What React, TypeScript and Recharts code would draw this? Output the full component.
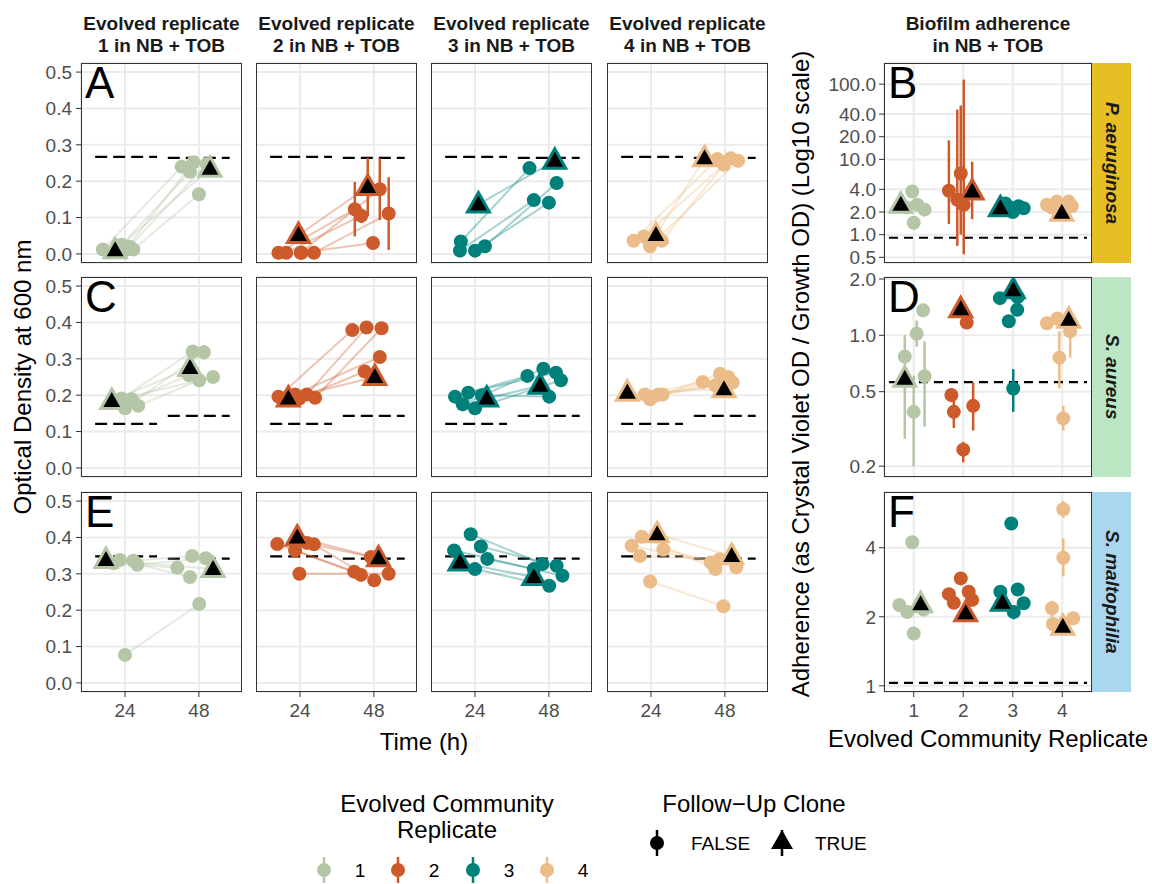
import React from 'react'
import { ScatterChart, Scatter, XAxis, YAxis, CartesianGrid, ErrorBar, ReferenceLine } from 'recharts'

const repColors = ['#B5C6A7', '#CC5A2B', '#00807A', '#EBBC87']
const repLabels = ['1', '2', '3', '4']
const speciesNames = ['P. aeruginosa', 'S. aureus', 'S. maltophilia']
const stripColors = ['#E7BF24', '#BAE6C2', '#AAD6F0']
const panelLetters = [['A', 'C', 'E'], ['B', 'D', 'F']]

const timeTicks = [24, 48]
const odTicks = [0, 0.1, 0.2, 0.3, 0.4, 0.5]
const replicateTicks = [1, 2, 3, 4]
const adhTicksPae = [0.5, 1, 2, 4, 10, 20, 40, 100]
const adhTicksSau = [0.2, 0.5, 1, 2]
const adhTicksSma = [1, 2, 4]

// growth of each clone: [time 24 (jittered), OD, err, time 48 (jittered), OD, err, follow-up clone]
const odPae1 = [
  [16.8, 0.012, 0, 42.4, 0.240, 0, 0],
  [22.9, 0.025, 0, 45.1, 0.226, 0, 0],
  [24.0, 0.010, 0, 46.2, 0.252, 0, 0],
  [26.7, 0.012, 0, 48.0, 0.164, 0, 0],
  [25.5, 0.020, 0, 50.5, 0.247, 0, 0],
  [20.8, 0.010, 0, 51.6, 0.234, 0, 1],
]
const odPae2 = [
  [17.0, 0.003, 0, 41.8, 0.123, 0.075, 0],
  [19.5, 0.003, 0, 43.9, 0.105, 0.02, 0],
  [24.2, 0.003, 0, 49.9, 0.178, 0.085, 0],
  [28.5, 0.003, 0, 52.8, 0.111, 0.1, 0],
  [24.5, 0.003, 0, 47.7, 0.030, 0.016, 0],
  [23.5, 0.052, 0.015, 46.0, 0.184, 0.08, 1],
]
const odPae3 = [
  [19.4, 0.034, 0, 41.7, 0.236, 0, 0],
  [19.1, 0.009, 0, 43.1, 0.148, 0, 0],
  [24.0, 0.009, 0, 48.0, 0.141, 0, 0],
  [27.2, 0.021, 0, 50.5, 0.195, 0, 0],
  [25.1, 0.136, 0, 49.9, 0.256, 0, 1],
]
const odPae4 = [
  [18.3, 0.036, 0, 45.6, 0.261, 0, 0],
  [21.7, 0.048, 0, 49.9, 0.263, 0, 0],
  [23.7, 0.021, 0, 52.3, 0.256, 0, 0],
  [27.5, 0.036, 0, 47.7, 0.245, 0, 0],
  [25.6, 0.052, 0, 41.4, 0.263, 0, 1],
]
const odSau1 = [
  [22.9, 0.191, 0, 46.0, 0.320, 0, 0],
  [24.0, 0.164, 0, 49.6, 0.318, 0.02, 0],
  [26.2, 0.189, 0, 44.8, 0.255, 0, 0],
  [28.3, 0.171, 0, 48.1, 0.241, 0, 0],
  [20.8, 0.186, 0, 52.6, 0.250, 0, 0],
  [19.7, 0.184, 0, 45.1, 0.275, 0, 1],
]
const odSau2 = [
  [17.0, 0.196, 0, 41.0, 0.379, 0, 0],
  [26.2, 0.202, 0, 45.6, 0.386, 0.012, 0],
  [28.9, 0.193, 0, 50.5, 0.384, 0.012, 0],
  [22.4, 0.202, 0, 49.9, 0.305, 0, 0],
  [23.8, 0.191, 0, 45.0, 0.265, 0, 0],
  [20.2, 0.191, 0, 48.3, 0.250, 0, 1],
]
const odSau3 = [
  [17.5, 0.196, 0, 41.0, 0.253, 0, 0],
  [20.0, 0.175, 0, 46.2, 0.273, 0, 0],
  [21.8, 0.207, 0, 50.3, 0.262, 0, 0],
  [24.0, 0.164, 0, 51.9, 0.241, 0, 0],
  [26.2, 0.200, 0, 48.1, 0.196, 0, 0],
  [27.8, 0.191, 0, 45.1, 0.226, 0, 1],
]
const odSau4 = [
  [22.0, 0.202, 0, 40.8, 0.236, 0, 0],
  [23.7, 0.189, 0, 46.4, 0.259, 0, 0],
  [26.4, 0.202, 0, 50.5, 0.235, 0, 0],
  [27.8, 0.202, 0, 44.8, 0.227, 0, 0],
  [24.5, 0.195, 0, 49.1, 0.250, 0, 0],
  [16.3, 0.207, 0, 47.7, 0.216, 0, 1],
]
const odSma1 = [
  [20.2, 0.329, 0, 41.0, 0.317, 0, 0],
  [22.4, 0.338, 0, 45.1, 0.291, 0, 0],
  [26.7, 0.336, 0, 45.8, 0.349, 0, 0],
  [28.0, 0.325, 0, 50.2, 0.343, 0, 0],
  [24.0, 0.077, 0, 48.1, 0.217, 0, 0],
  [17.8, 0.338, 0, 52.6, 0.313, 0, 1],
]
const odSma2 = [
  [16.6, 0.382, 0, 41.6, 0.306, 0, 0],
  [22.4, 0.364, 0, 43.8, 0.297, 0, 0],
  [26.2, 0.385, 0, 47.0, 0.346, 0, 0],
  [28.5, 0.381, 0, 48.1, 0.282, 0, 0],
  [23.8, 0.300, 0, 52.8, 0.300, 0, 0],
  [23.1, 0.400, 0, 49.5, 0.343, 0, 1],
]
const odSma3 = [
  [17.2, 0.364, 0, 43.1, 0.313, 0, 0],
  [22.6, 0.409, 0, 45.9, 0.327, 0, 0],
  [25.9, 0.375, 0, 50.5, 0.322, 0, 0],
  [28.0, 0.341, 0, 52.4, 0.295, 0, 0],
  [24.0, 0.313, 0, 48.1, 0.267, 0, 0],
  [19.1, 0.331, 0, 43.1, 0.291, 0, 1],
]
const odSma4 = [
  [17.7, 0.377, 0, 43.4, 0.331, 0, 0],
  [21.0, 0.402, 0.01, 44.9, 0.313, 0, 0],
  [20.4, 0.349, 0, 46.3, 0.340, 0.01, 0],
  [28.0, 0.367, 0, 51.7, 0.318, 0, 0],
  [23.7, 0.279, 0, 47.5, 0.211, 0, 0],
  [26.0, 0.409, 0, 50.2, 0.349, 0, 1],
]

// ancestor OD at 24 h and 48 h (dashed), and the time span they cover
const ctrlOdPae = [0.267, 0.264]
const ctrlOdSau = [0.121, 0.143]
const ctrlOdSma = [0.348, 0.342]
const ctrlSpan24 = [14.3, 34.4]
const ctrlSpan48 = [37.9, 58.0]

// adherence: [replicate (jittered), value, low, high, follow-up clone]
const adhPae = [
  [0.97, 3.75, 0, 0, 0], [1.07, 2.5, 0, 0, 0], [1.22, 2.15, 0, 0, 0], [1.0, 1.44, 0, 0, 0], [0.85, 2.3, 0, 0, 0],
  [0.74, 2.5, 0, 0, 1],
  [1.71, 3.83, 1.38, 17.9, 0], [1.88, 2.9, 0.71, 46, 0], [1.95, 6.5, 1.0, 52, 0], [2.01, 2.5, 0.55, 115, 0],
  [2.18, 3.75, 1.6, 9.3, 1],
  [2.85, 2.6, 0, 0, 0], [2.95, 2.3, 0, 0, 0], [3.12, 2.38, 0, 0, 0], [3.22, 2.24, 0, 0, 0], [3.0, 2.0, 0, 0, 0],
  [2.75, 2.24, 0, 0, 1],
  [3.69, 2.5, 0, 0, 0], [3.89, 2.75, 0, 0, 0], [4.13, 2.75, 0, 0, 0], [4.19, 2.38, 0, 0, 0], [3.79, 2.3, 0, 0, 0],
  [3.99, 1.95, 0, 0, 1],
]
const adhSau = [
  [0.82, 0.77, 0.6, 1.0, 0], [1.0, 0.39, 0.2, 0.61, 0], [1.06, 1.02, 0.87, 1.2, 0], [1.19, 1.36, 1.25, 1.48, 0],
  [1.22, 0.605, 0.325, 0.93, 0],
  [0.82, 0.586, 0.28, 0.6, 1],
  [2.07, 1.17, 1.12, 1.22, 0], [1.76, 0.48, 0.44, 0.52, 0], [1.81, 0.39, 0.32, 0.45, 0], [2.0, 0.245, 0.21, 0.27, 0],
  [2.2, 0.42, 0.31, 0.56, 0],
  [1.95, 1.38, 0, 0, 1],
  [2.74, 1.58, 0, 0, 0], [3.1, 1.6, 0, 0, 0], [3.09, 1.37, 1.3, 1.45, 0], [2.92, 1.19, 0, 0, 0], [3.01, 0.52, 0.39, 0.66, 0],
  [3.01, 1.74, 1.6, 1.9, 1],
  [3.69, 1.16, 0, 0, 0], [3.9, 1.23, 0, 0, 0], [4.16, 1.05, 0.76, 1.19, 0], [3.94, 0.76, 0.52, 1.05, 0],
  [4.02, 0.36, 0.31, 0.42, 0],
  [4.13, 1.21, 0, 0, 1],
]
const adhSma = [
  [0.97, 4.23, 0, 0, 0], [0.71, 2.25, 0, 0, 0], [0.87, 2.1, 0, 0, 0], [1.0, 1.69, 0, 0, 0], [1.2, 2.15, 0, 0, 0],
  [1.14, 2.27, 0, 0, 1],
  [1.95, 2.94, 0, 0, 0], [1.71, 2.51, 0, 0, 0], [2.11, 2.57, 0, 0, 0], [2.18, 2.37, 0, 0, 0], [1.81, 2.3, 0, 0, 0],
  [2.05, 2.07, 0, 0, 1],
  [2.75, 2.57, 0, 0, 0], [3.1, 2.63, 0, 0, 0], [3.22, 2.29, 0, 0, 0], [3.02, 2.1, 1.95, 2.2, 0], [2.97, 5.1, 0, 0, 0],
  [2.79, 2.3, 0, 0, 1],
  [4.02, 5.89, 5.4, 6.4, 0], [4.02, 3.62, 3.0, 4.4, 0], [3.79, 2.18, 2.0, 2.35, 0], [3.81, 1.86, 0, 0, 0],
  [4.22, 1.97, 1.85, 2.05, 0],
  [4.01, 1.81, 0, 0, 1],
]
// ancestor adherence (dashed)
const ctrlAdh = [0.91, 0.563, 1.03]

const odRows = [
  [odPae1, odPae2, odPae3, odPae4],
  [odSau1, odSau2, odSau3, odSau4],
  [odSma1, odSma2, odSma3, odSma4],
]
const odCtrls = [ctrlOdPae, ctrlOdSau, ctrlOdSma]
const adhRows = [adhPae, adhSau, adhSma]
const adhTicks = [adhTicksPae, adhTicksSau, adhTicksSma]
const adhDomains = [[0.42, 191], [0.175, 2.05], [0.94, 7.0]]

const FONT = '"Liberation Sans", Arial, Helvetica, sans-serif'
const PW = 161
const PH = 200
const PAD = 12
const colX = [81, 256, 431, 607]
const rowY = [63, 277, 492]
const AX = 884
const AW = 208
const tickStyle = { fontSize: 19, fill: '#4D4D4D', fontFamily: FONT }

const dot = (color: string) => (p: any) => <circle cx={p.cx} cy={p.cy} r={7} fill={color} />
const tri = (color: string) => (p: any) => (
  <path
    d={`M${p.cx},${p.cy - 12} L${p.cx + 11},${p.cy + 7.5} L${p.cx - 11},${p.cy + 7.5} Z`}
    fill="#000"
    stroke={color}
    strokeWidth={3}
    strokeLinejoin="miter"
  />
)
const none = () => <g />

function odPoints(clones: number[][], follow: number) {
  const pts: { x: number; y: number; e: number }[] = []
  clones.filter((c) => c[6] === follow).forEach((c) => {
    pts.push({ x: c[0], y: c[1], e: c[2] })
    pts.push({ x: c[3], y: c[4], e: c[5] })
  })
  return pts
}

function OdPanel({ row, col }: { row: number; col: number }) {
  const clones = odRows[row][col]
  const color = repColors[col]
  const ctrl = odCtrls[row]
  const showY = col === 0
  const showX = row === 2
  const yW = showY ? 50 : 0
  const xH = showX ? 34 : PAD
  const h = PAD + PH + xH
  return (
    <div style={{ position: 'absolute', left: colX[col] - yW, top: rowY[row] - PAD, width: PW + yW, height: h }}>
      <ScatterChart width={PW + yW} height={h} margin={{ top: PAD, right: 0, bottom: showX ? 0 : PAD, left: 0 }}>
        <CartesianGrid stroke="#EBEBEB" strokeWidth={2} />
        <XAxis
          type="number"
          dataKey="x"
          domain={[9.7, 62]}
          ticks={timeTicks}
          interval={0}
          allowDataOverflow
          hide={!showX}
          height={showX ? xH : 0}
          axisLine={false}
          tickLine={{ stroke: '#333' }}
          tickSize={5}
          tickMargin={7}
          tick={tickStyle}
        />
        <YAxis
          type="number"
          dataKey="y"
          domain={[-0.025, 0.525]}
          ticks={odTicks}
          interval={0}
          allowDataOverflow
          hide={!showY}
          width={yW}
          axisLine={false}
          tickLine={{ stroke: '#333' }}
          tickSize={5}
          tickMargin={4}
          tick={tickStyle}
          tickFormatter={(v: number) => v.toFixed(1)}
        />
        <ReferenceLine
          segment={[{ x: ctrlSpan24[0], y: ctrl[0] }, { x: ctrlSpan24[1], y: ctrl[0] }]}
          stroke="#000"
          strokeWidth={2.2}
          strokeDasharray="12 6"
        />
        <ReferenceLine
          segment={[{ x: ctrlSpan48[0], y: ctrl[1] }, { x: ctrlSpan48[1], y: ctrl[1] }]}
          stroke="#000"
          strokeWidth={2.2}
          strokeDasharray="12 6"
        />
        {clones.map((c, i) => (
          <Scatter
            key={'l' + i}
            data={[{ x: c[0], y: c[1] }, { x: c[3], y: c[4] }]}
            line={{ stroke: color, strokeOpacity: 0.35, strokeWidth: 2 }}
            shape={none}
            isAnimationActive={false}
          />
        ))}
        <Scatter data={odPoints(clones, 0)} shape={dot(color)} isAnimationActive={false}>
          <ErrorBar dataKey="e" direction="y" width={0} stroke={color} strokeWidth={2.5} />
        </Scatter>
        <Scatter data={odPoints(clones, 1)} shape={tri(color)} isAnimationActive={false}>
          <ErrorBar dataKey="e" direction="y" width={0} stroke={color} strokeWidth={2.5} />
        </Scatter>
      </ScatterChart>
      <div
        style={{
          position: 'absolute', left: yW, top: PAD, width: PW, height: PH,
          border: '1px solid #333', boxSizing: 'border-box', pointerEvents: 'none',
        }}
      />
      {col === 0 && (
        <div style={{ position: 'absolute', left: yW + 4, top: PAD - 2, fontSize: 44, fontFamily: FONT, lineHeight: 1 }}>
          {panelLetters[0][row]}
        </div>
      )}
    </div>
  )
}

function AdhPanel({ row }: { row: number }) {
  const pts = adhRows[row]
  const showX = row === 2
  const yW = 64
  const xH = showX ? 34 : PAD
  const h = PAD + PH + xH
  const fmt = (v: number) => (row === 2 ? String(v) : v.toFixed(1))
  const series = (follow: number, rep: number) =>
    pts
      .filter((p) => p[4] === follow && Math.round(p[0]) === rep)
      .map((p) => ({ x: p[0], y: p[1], e: p[2] > 0 ? [p[1] - p[2], p[3] - p[1]] : [0, 0] }))
  return (
    <div style={{ position: 'absolute', left: AX - yW, top: rowY[row] - PAD, width: AW + yW, height: h }}>
      <ScatterChart width={AW + yW} height={h} margin={{ top: PAD, right: 0, bottom: showX ? 0 : PAD, left: 0 }}>
        <CartesianGrid stroke="#EBEBEB" strokeWidth={2} />
        <XAxis
          type="number"
          dataKey="x"
          domain={[0.4, 4.6]}
          ticks={replicateTicks}
          interval={0}
          allowDataOverflow
          hide={!showX}
          height={showX ? xH : 0}
          axisLine={false}
          tickLine={{ stroke: '#333' }}
          tickSize={5}
          tickMargin={7}
          tick={tickStyle}
        />
        <YAxis
          type="number"
          dataKey="y"
          scale="log"
          domain={adhDomains[row]}
          ticks={adhTicks[row]}
          interval={0}
          allowDataOverflow
          width={yW}
          axisLine={false}
          tickLine={{ stroke: '#333' }}
          tickSize={5}
          tickMargin={3}
          tick={tickStyle}
          tickFormatter={fmt}
        />
        <ReferenceLine
          segment={[{ x: 0.5, y: ctrlAdh[row] }, { x: 4.5, y: ctrlAdh[row] }]}
          stroke="#000"
          strokeWidth={2.2}
          strokeDasharray="9 6"
        />
        {[1, 2, 3, 4].map((rep) => (
          <Scatter key={'c' + rep} data={series(0, rep)} shape={dot(repColors[rep - 1])} isAnimationActive={false}>
            <ErrorBar dataKey="e" direction="y" width={0} stroke={repColors[rep - 1]} strokeWidth={2.5} />
          </Scatter>
        ))}
        {[1, 2, 3, 4].map((rep) => (
          <Scatter key={'t' + rep} data={series(1, rep)} shape={tri(repColors[rep - 1])} isAnimationActive={false}>
            <ErrorBar dataKey="e" direction="y" width={0} stroke={repColors[rep - 1]} strokeWidth={2.5} />
          </Scatter>
        ))}
      </ScatterChart>
      <div
        style={{
          position: 'absolute', left: yW, top: PAD, width: AW, height: PH,
          border: '1px solid #333', boxSizing: 'border-box', pointerEvents: 'none',
        }}
      />
      <div style={{ position: 'absolute', left: yW + 4, top: PAD - 2, fontSize: 44, fontFamily: FONT, lineHeight: 1 }}>
        {panelLetters[1][row]}
      </div>
      <div
        style={{
          position: 'absolute', left: yW + AW, top: PAD, width: 39, height: PH, background: stripColors[row],
          display: 'flex', alignItems: 'center', justifyContent: 'center',
        }}
      >
        <span
          style={{
            writingMode: 'vertical-rl', fontFamily: FONT, fontSize: 19, fontWeight: 'bold', fontStyle: 'italic',
            color: '#1A1A1A',
          }}
        >
          {speciesNames[row]}
        </span>
      </div>
    </div>
  )
}

function Texts() {
  const headerY = [23, 45]
  const legendItemX = [324, 398, 473, 547]
  return (
    <svg
      width={1152}
      height={884}
      style={{ position: 'absolute', left: 0, top: 0, pointerEvents: 'none' }}
      fontFamily={FONT}
    >
      {colX.map((x, i) => (
        <g key={i} fontWeight="bold" fontSize={19} fill="#1A1A1A" textAnchor="middle">
          <text x={x + PW / 2} y={headerY[0]} dominantBaseline="central">Evolved replicate</text>
          <text x={x + PW / 2} y={headerY[1]} dominantBaseline="central">{repLabels[i]} in NB + TOB</text>
        </g>
      ))}
      <g fontWeight="bold" fontSize={19} fill="#1A1A1A" textAnchor="middle">
        <text x={AX + AW / 2} y={headerY[0]} dominantBaseline="central">Biofilm adherence</text>
        <text x={AX + AW / 2} y={headerY[1]} dominantBaseline="central">in NB + TOB</text>
      </g>
      <text x={22} y={377} fontSize={24} textAnchor="middle" dominantBaseline="central" transform="rotate(-90 22 377)">
        Optical Density at 600 nm
      </text>
      <text x={424} y={741} fontSize={24} textAnchor="middle" dominantBaseline="central">Time (h)</text>
      <text x={800} y={374} fontSize={24} textAnchor="middle" dominantBaseline="central" transform="rotate(-90 800 374)">
        Adherence (as Crystal Violet OD / Growth OD) (Log10 scale)
      </text>
      <text x={988} y={738} fontSize={24} textAnchor="middle" dominantBaseline="central">
        Evolved Community Replicate
      </text>

      <text x={447} y={803} fontSize={24} textAnchor="middle" dominantBaseline="central">Evolved Community</text>
      <text x={447} y={829} fontSize={24} textAnchor="middle" dominantBaseline="central">Replicate</text>
      {legendItemX.map((x, i) => (
        <g key={i}>
          <line x1={x} x2={x} y1={857} y2={883} stroke={repColors[i]} strokeWidth={2.5} />
          <circle cx={x} cy={870} r={7} fill={repColors[i]} />
          <text x={x + 36} y={870} fontSize={19} textAnchor="middle" dominantBaseline="central">{repLabels[i]}</text>
        </g>
      ))}

      <text x={754} y={803} fontSize={24} textAnchor="middle" dominantBaseline="central">Follow−Up Clone</text>
      <line x1={657} x2={657} y1={830} y2={856} stroke="#000" strokeWidth={2.5} />
      <circle cx={657} cy={843} r={7} fill="#000" />
      <text x={691} y={843} fontSize={19} dominantBaseline="central">FALSE</text>
      <line x1={782} x2={782} y1={830} y2={856} stroke="#000" strokeWidth={2.5} />
      <path d="M782,830 L793,849 L771,849 Z" fill="#000" />
      <text x={815} y={843} fontSize={19} dominantBaseline="central">TRUE</text>
    </svg>
  )
}

export default function App() {
  return (
    <div style={{ position: 'absolute', left: 0, top: 0, width: 1152, height: 884, background: '#fff', fontFamily: FONT }}>
      {[0, 1, 2].map((r) => [0, 1, 2, 3].map((c) => <OdPanel key={`${r}-${c}`} row={r} col={c} />))}
      {[0, 1, 2].map((r) => <AdhPanel key={r} row={r} />)}
      <Texts />
    </div>
  )
}
